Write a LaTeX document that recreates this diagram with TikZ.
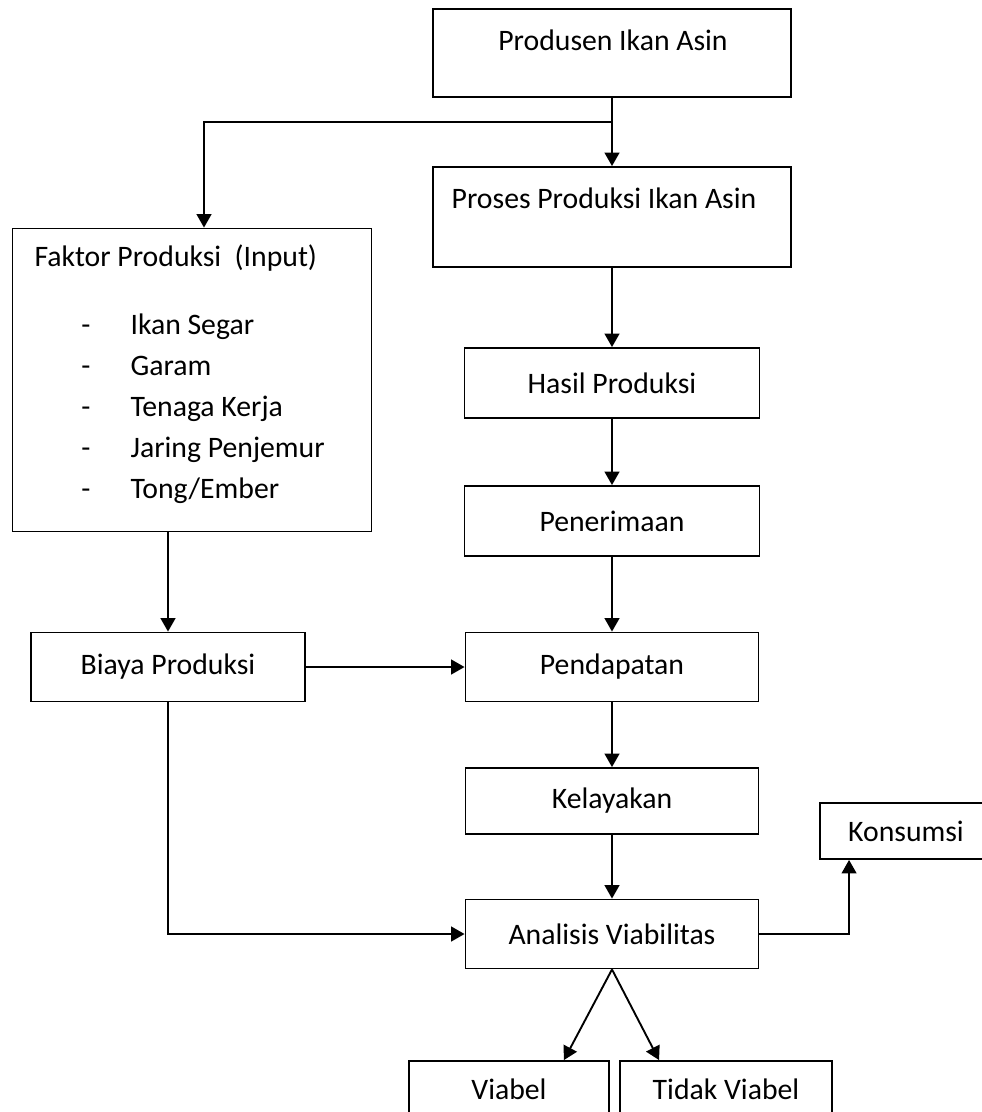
\documentclass[tikz,border=0pt]{standalone}
\usepackage{fontspec}
\setmainfont{Carlito}
\usepackage{tikz}
\usetikzlibrary{positioning, calc, arrows.meta}

\tikzset{
  bx/.style 2 args={draw, rectangle, line width=0.7pt, inner sep=0pt,
    minimum width=#1*0.37pt, minimum height=#2*0.37pt},
  lbl/.style={inner sep=0pt},
  arr/.style={line width=0.7pt, -{Triangle[length=5pt, width=5.5pt]}},
  ln/.style={line width=0.7pt}
}

\begin{document}
\begin{tikzpicture}[x=0.37pt, y=-0.37pt, font=\fontsize{11}{13}\selectfont]
      \useasboundingbox (0,0) rectangle (982,1112);

      % right column
      \node[bx={358}{88}] (prod) at (612, 53) {};
      \node[lbl] (prodtxt) at (613, 40) {Produsen Ikan Asin};
      \node[bx={358}{100}] (proses) at (612, 217) {};
      \node[lbl] (prosestxt) at (604, 198) {Proses Produksi Ikan Asin};
      \node[bx={295}{70}] (hasil) at (612, 383) {Hasil Produksi};
      \node[bx={295}{70}] (terima) at (612, 521) {Penerimaan};
      \node[bx={293}{69}] (dapat) at (612, 667) {Pendapatan};
      \node[bx={293}{66}] (layak) at (612, 801) {Kelayakan};
      \node[bx={293}{69}] (analisis) at (612, 934) {Analisis Viabilitas};
      \node[bx={172}{56}] (konsumsi) at (906, 831) {Konsumsi};
      \node[bx={200}{64}] (viabel) at (509, 1093) {};
      \node[lbl] at (509, 1089) {Viabel};
      \node[bx={212}{64}] (tidak) at (726, 1093) {};
      \node[lbl] at (726, 1089) {Tidak Viabel};

      % left column
      \node[bx={359}{303}] (faktor) at (192, 380) {};
      \node[lbl, anchor=west] (faktortxt) at (34, 258) {Faktor Produksi\ \ (Input)};
      \foreach \item [count=\i] in {Ikan Segar, Garam, Tenaga Kerja, Jaring Penjemur, Tong/Ember} {
        \node[lbl, anchor=base] at (86, 293+41*\i) {-};
        \node[lbl, anchor=base west] at (130, 293+41*\i) {\item};
      }
      \node[bx={274}{69}] (biaya) at (168, 667) {Biaya Produksi};

      \coordinate (split) at (612, 122);

      \draw[ln] (prod.south) -- (split);
      \draw[arr] (split) -- (proses.north);
      \draw[arr] (split) -| ($(faktor.north)+(12,0)$);
      \draw[arr] (proses.south) -- (hasil.north);
      \draw[arr] (hasil.south) -- (terima.north);
      \draw[arr] (terima.south) -- (dapat.north);
      \draw[arr] (dapat.south) -- (layak.north);
      \draw[arr] (layak.south) -- (analisis.north);
      \draw[arr] (biaya.north |- faktor.south) -- (biaya.north);
      \draw[arr] (biaya.east) -- (dapat.west);
      \draw[arr] (biaya.south) |- (analisis.west);
      \draw[arr] (analisis.east) -| ($(konsumsi.south west)+(30,0)$);
      \draw[arr] (analisis.south) -- ($(viabel.north east)+(-46,0)$);
      \draw[arr] (analisis.south) -- ($(tidak.north west)+(40,0)$);
    \end{tikzpicture}
\end{document}
